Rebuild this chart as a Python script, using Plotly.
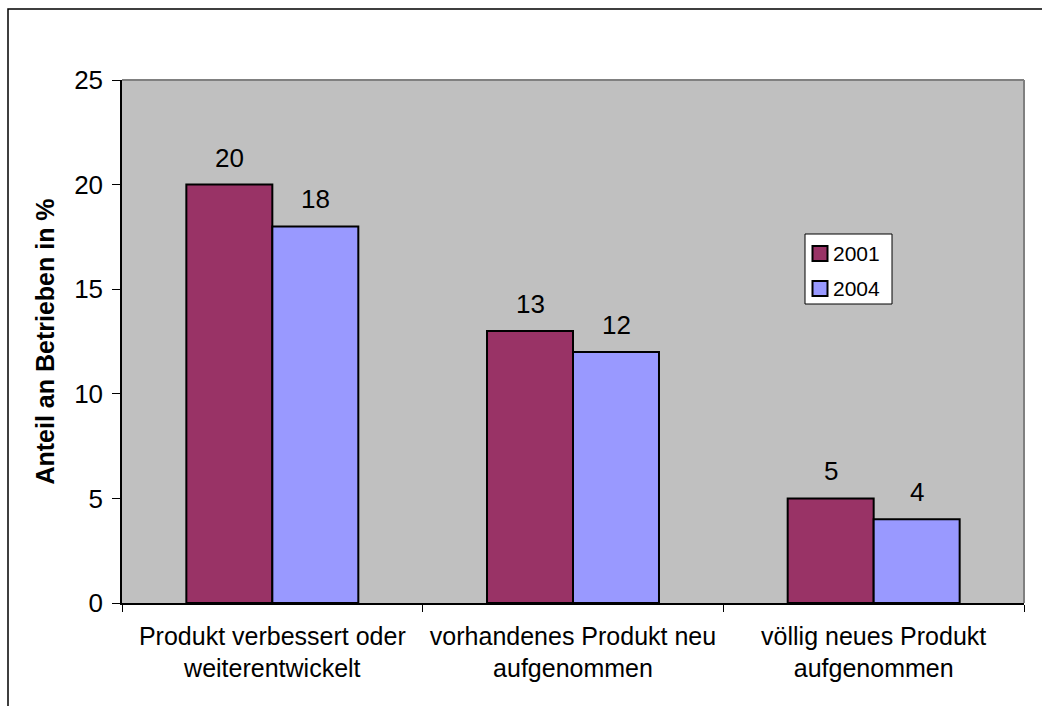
import plotly.graph_objects as go

# Chart data
categories = [
    "Produkt verbessert oder<br>weiterentwickelt",
    "vorhandenes Produkt neu<br>aufgenommen",
    "völlig neues Produkt<br>aufgenommen",
]
series_names = ["2001", "2004"]
values_2001 = [20, 13, 5]
values_2004 = [18, 12, 4]
y_ticks = [0, 5, 10, 15, 20, 25]
y_title = "Anteil an Betrieben in %"

FONT = "Arial, 'Liberation Sans', sans-serif"
BAR_COLORS = ["#993366", "#9999FF"]
LABEL_SHIFT = [-43, 43]

W, H = 1042, 706
L, R, T, B = 122, 18, 80, 103
PW, PH = W - L - R, H - T - B


def px_to_paper_x(px):
    return (px - L) / PW


def px_to_paper_y(py):
    return (H - B - py) / PH


fig = go.Figure()
for i, (name, vals) in enumerate(zip(series_names, [values_2001, values_2004])):
    fig.add_trace(go.Bar(
        x=categories, y=vals, name=name, showlegend=False,
        marker=dict(color=BAR_COLORS[i], line=dict(color="black", width=2)),
    ))
    # value labels above each bar
    for cat, v in zip(categories, vals):
        fig.add_annotation(
            x=cat, y=v, text=str(v), showarrow=False,
            xshift=LABEL_SHIFT[i], yshift=27, yanchor="middle",
            font=dict(family=FONT, size=26, color="black"),
        )

# legend box drawn as shapes + text
LEG_X0, LEG_X1, LEG_Y0, LEG_Y1 = 805, 892, 234, 304
fig.add_shape(type="rect", xref="paper", yref="paper",
              x0=px_to_paper_x(LEG_X0), x1=px_to_paper_x(LEG_X1),
              y0=px_to_paper_y(LEG_Y1), y1=px_to_paper_y(LEG_Y0),
              line=dict(color="black", width=1), fillcolor="white")
for i, name in enumerate(series_names):
    cy = 253.5 + 35 * i
    fig.add_shape(type="rect", xref="paper", yref="paper",
                  x0=px_to_paper_x(812.5), x1=px_to_paper_x(827.5),
                  y0=px_to_paper_y(cy + 7.5), y1=px_to_paper_y(cy - 7.5),
                  line=dict(color="black", width=2), fillcolor=BAR_COLORS[i])
    fig.add_annotation(xref="paper", yref="paper",
                       x=px_to_paper_x(831), y=px_to_paper_y(cy),
                       xanchor="left", yanchor="middle", showarrow=False,
                       text=name, font=dict(family=FONT, size=21, color="black"))

# plot-area frame (top and right) in grey
fig.add_shape(type="line", xref="paper", yref="paper", x0=0, x1=1, y0=1, y1=1,
              line=dict(color="#808080", width=2))
fig.add_shape(type="line", xref="paper", yref="paper", x0=1, x1=1, y0=0, y1=1,
              line=dict(color="#808080", width=2))
# outer chart border
fig.add_shape(type="rect", xref="paper", yref="paper",
              x0=px_to_paper_x(8), x1=px_to_paper_x(1100),
              y0=px_to_paper_y(760), y1=px_to_paper_y(9),
              line=dict(color="black", width=1.5), fillcolor="rgba(0,0,0,0)")

fig.update_layout(
    width=W, height=H,
    margin=dict(l=L, r=R, t=T, b=B, pad=0),
    paper_bgcolor="white", plot_bgcolor="#C0C0C0",
    barmode="group", bargap=0.428, bargroupgap=0,
    font=dict(family=FONT, color="black"),
    showlegend=False,
    xaxis=dict(
        type="category", showline=True, linecolor="black", linewidth=1.5,
        ticks="outside", tickson="boundaries", ticklen=7, tickcolor="black",
        tickfont=dict(family=FONT, size=25, color="black"),
        ticklabelstandoff=10,
        showgrid=False,
    ),
    yaxis=dict(
        range=[0, 25], tickvals=y_ticks, showline=True, linecolor="black",
        linewidth=1.5, ticks="outside", ticklen=8, tickcolor="black",
        tickfont=dict(family=FONT, size=26, color="black"),
        ticklabelstandoff=4,
        showgrid=False, zeroline=False,
        title=dict(text=f"<b>{y_title}</b>",
                   font=dict(family=FONT, size=25, color="black"), standoff=12),
    ),
)

fig.write_html("out.html")
